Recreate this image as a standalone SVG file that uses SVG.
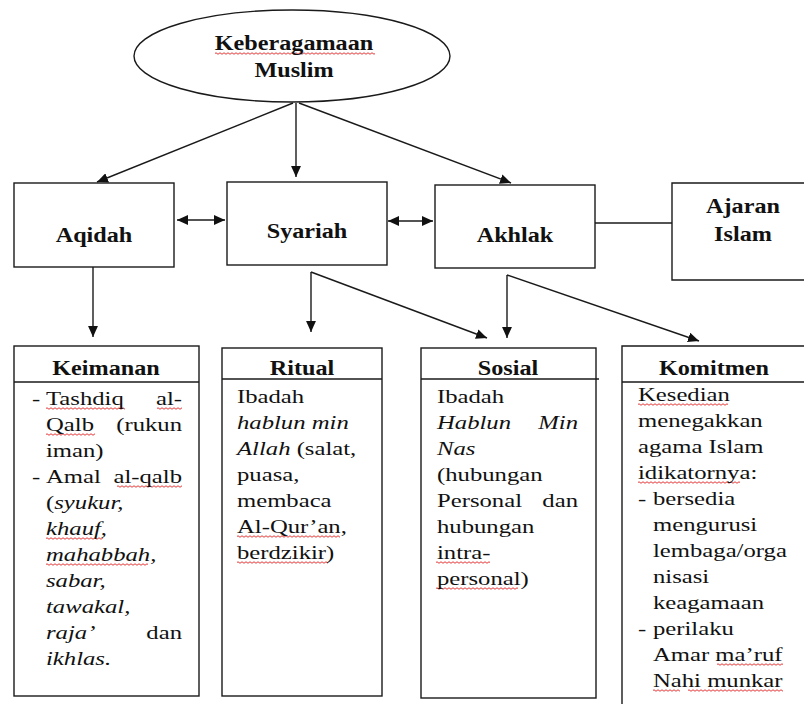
<svg xmlns="http://www.w3.org/2000/svg" width="804" height="704" viewBox="0 0 804 704">
  <defs>
    <style>
      .box{fill:#fff;stroke:#1a1a1a;stroke-width:1.4}
      .ln{fill:none;stroke:#1a1a1a;stroke-width:1.4}
      .t{font-family:"Liberation Serif","Times New Roman",serif;font-weight:bold;font-size:20.5px;fill:#111;text-anchor:middle}
      .b{font-family:"Liberation Serif","Times New Roman",serif;font-size:19px;fill:#111}
      .e{text-anchor:end}
      .i{font-style:italic}
      .sq{fill:url(#squig)}
    </style>
    <marker id="ah" viewBox="0 0 10 9" refX="10" refY="4.5" markerWidth="11" markerHeight="10" markerUnits="userSpaceOnUse" orient="auto-start-reverse">
      <path d="M0 0L10 4.5L0 9z" fill="#111"/>
    </marker>
    <!-- wavy red spell-check underline -->
    <pattern id="squig" patternUnits="userSpaceOnUse" width="4" height="3">
      <path d="M0 1.5Q1 0 2 1.5T4 1.5" fill="none" stroke="#e02020" stroke-width="0.9"/>
    </pattern>
  </defs>

  <!-- connectors -->
  <g id="connectors" class="ln">
    <path d="M293 103L97 182" marker-end="url(#ah)"/>
    <path d="M296 103V177" marker-end="url(#ah)"/>
    <path d="M299 103L511 183" marker-end="url(#ah)"/>
    <path d="M177 220H225" marker-start="url(#ah)" marker-end="url(#ah)"/>
    <path d="M388 221H433" marker-start="url(#ah)" marker-end="url(#ah)"/>
    <path d="M595 223H672"/>
    <path d="M93 267V337" marker-end="url(#ah)"/>
    <path d="M311 272V332" marker-end="url(#ah)"/>
    <path d="M311 272L487 338" marker-end="url(#ah)"/>
    <path d="M507 275V338" marker-end="url(#ah)"/>
    <path d="M507 275L699 341" marker-end="url(#ah)"/>
  </g>

  <!-- root ellipse -->
  <g id="keberagamaan">
    <ellipse class="box" cx="292" cy="56" rx="158" ry="46"/>
    <rect class="sq" transform="translate(215 52)" width="160" height="3"/>
    <text class="t" transform="translate(294 50) scale(1.18 1)">Keberagamaan</text>
    <text class="t" transform="translate(294 77) scale(1.18 1)">Muslim</text>
  </g>

  <!-- second level -->
  <g id="aqidah">
    <rect class="box" x="14" y="183" width="160" height="84"/>
    <text class="t" transform="translate(94 242) scale(1.18 1)">Aqidah</text>
  </g>
  <g id="syariah">
    <rect class="box" x="227" y="182" width="160" height="83"/>
    <text class="t" transform="translate(307 238) scale(1.18 1)">Syariah</text>
  </g>
  <g id="akhlak">
    <rect class="box" x="435" y="185" width="160" height="83"/>
    <text class="t" transform="translate(515 242) scale(1.18 1)">Akhlak</text>
  </g>
  <g id="ajaran-islam">
    <path class="box" d="M810 183H672V280H810"/>
    <text class="t" transform="translate(743 213) scale(1.18 1)">Ajaran</text>
    <text class="t" transform="translate(743 241) scale(1.18 1)">Islam</text>
  </g>

  <!-- Keimanan -->
  <g id="keimanan">
    <rect class="box" x="14" y="346" width="185" height="350"/>
    <path class="ln" d="M14 382H199"/>
    <text class="t" transform="translate(106 375) scale(1.18 1)">Keimanan</text>
    <rect class="sq" transform="translate(46 407)" width="79" height="3"/>
    <rect class="sq" transform="translate(157 407)" width="25" height="3"/>
    <rect class="sq" transform="translate(46 433)" width="49" height="3"/>
    <rect class="sq" transform="translate(117 485)" width="65" height="3"/>
    <rect class="sq" transform="translate(46 537)" width="57" height="3"/>
    <rect class="sq" transform="translate(46 563)" width="102" height="3"/>
    <text class="b" transform="translate(32 405) scale(1.3 1)">-</text>
    <text class="b" transform="translate(46 405) scale(1.3 1)">Tashdiq</text>
    <text class="b e" transform="translate(182 405) scale(1.3 1)">al-</text>
    <text class="b" transform="translate(46 431) scale(1.3 1)">Qalb</text>
    <text class="b e" transform="translate(182 431) scale(1.3 1)">(rukun</text>
    <text class="b" transform="translate(46 457) scale(1.3 1)">iman)</text>
    <text class="b" transform="translate(32 483) scale(1.3 1)">-</text>
    <text class="b" transform="translate(46 483) scale(1.3 1)">Amal</text>
    <text class="b e" transform="translate(182 483) scale(1.3 1)">al-qalb</text>
    <text class="b" transform="translate(46 509) scale(1.3 1)">(<tspan class="i">syukur,</tspan></text>
    <text class="b i" transform="translate(46 535) scale(1.3 1)">khauf,</text>
    <text class="b i" transform="translate(46 561) scale(1.3 1)">mahabbah,</text>
    <text class="b i" transform="translate(46 587) scale(1.3 1)">sabar,</text>
    <text class="b i" transform="translate(46 613) scale(1.3 1)">tawakal,</text>
    <text class="b i" transform="translate(46 639) scale(1.3 1)">raja’</text>
    <text class="b e" transform="translate(182 639) scale(1.3 1)">dan</text>
    <text class="b i" transform="translate(46 665) scale(1.3 1)">ikhlas.</text>
  </g>

  <!-- Ritual -->
  <g id="ritual">
    <rect class="box" x="222" y="348" width="160" height="348"/>
    <path class="ln" d="M222 379H382"/>
    <text class="t" transform="translate(302 375) scale(1.18 1)">Ritual</text>
    <rect class="sq" transform="translate(237 535)" width="103" height="3"/>
    <rect class="sq" transform="translate(237 561)" width="91" height="3"/>
    <text class="b" transform="translate(237 403) scale(1.3 1)">Ibadah</text>
    <text class="b i" transform="translate(237 429) scale(1.3 1)">hablun min</text>
    <text class="b" transform="translate(237 455) scale(1.3 1)"><tspan class="i">Allah</tspan> (salat,</text>
    <text class="b" transform="translate(237 481) scale(1.3 1)">puasa,</text>
    <text class="b" transform="translate(237 507) scale(1.3 1)">membaca</text>
    <text class="b" transform="translate(237 533) scale(1.3 1)">Al-Qur’an,</text>
    <text class="b" transform="translate(237 559) scale(1.3 1)">berdzikir)</text>
  </g>

  <!-- Sosial -->
  <g id="sosial">
    <rect class="box" x="421" y="348" width="175" height="350"/>
    <path class="ln" d="M421 379H599"/>
    <text class="t" transform="translate(508 375) scale(1.18 1)">Sosial</text>
    <rect class="sq" transform="translate(436 561)" width="54" height="3"/>
    <rect class="sq" transform="translate(436 587)" width="82" height="3"/>
    <text class="b" transform="translate(437 403) scale(1.3 1)">Ibadah</text>
    <text class="b i" transform="translate(437 429) scale(1.3 1)">Hablun</text>
    <text class="b i e" transform="translate(578 429) scale(1.3 1)">Min</text>
    <text class="b i" transform="translate(437 455) scale(1.3 1)">Nas</text>
    <text class="b" transform="translate(437 481) scale(1.3 1)">(hubungan</text>
    <text class="b" transform="translate(437 507) scale(1.3 1)">Personal</text>
    <text class="b e" transform="translate(578 507) scale(1.3 1)">dan</text>
    <text class="b" transform="translate(437 533) scale(1.3 1)">hubungan</text>
    <text class="b" transform="translate(437 559) scale(1.3 1)">intra-</text>
    <text class="b" transform="translate(437 585) scale(1.3 1)">personal)</text>
  </g>

  <!-- Komitmen -->
  <g id="komitmen">
    <path class="ln" d="M806 346H622V706M622 382H806"/>
    <text class="t" transform="translate(714 375) scale(1.18 1)">Komitmen</text>
    <rect class="sq" transform="translate(638 403)" width="90" height="3"/>
    <rect class="sq" transform="translate(638 481)" width="102" height="3"/>
    <rect class="sq" transform="translate(717 663)" width="66" height="3"/>
    <rect class="sq" transform="translate(653 689)" width="27" height="3"/>
    <rect class="sq" transform="translate(688 689)" width="95" height="3"/>
    <text class="b" transform="translate(638 401) scale(1.3 1)">Kesedian</text>
    <text class="b" transform="translate(638 427) scale(1.3 1)">menegakkan</text>
    <text class="b" transform="translate(638 453) scale(1.3 1)">agama Islam</text>
    <text class="b" transform="translate(638 479) scale(1.3 1)">idikatornya:</text>
    <text class="b" transform="translate(638 505) scale(1.3 1)">-</text>
    <text class="b" transform="translate(653 505) scale(1.3 1)">bersedia</text>
    <text class="b" transform="translate(653 531) scale(1.3 1)">mengurusi</text>
    <text class="b" transform="translate(653 557) scale(1.3 1)">lembaga/orga</text>
    <text class="b" transform="translate(653 583) scale(1.3 1)">nisasi</text>
    <text class="b" transform="translate(653 609) scale(1.3 1)">keagamaan</text>
    <text class="b" transform="translate(638 635) scale(1.3 1)">-</text>
    <text class="b" transform="translate(653 635) scale(1.3 1)">perilaku</text>
    <text class="b" transform="translate(653 661) scale(1.3 1)">Amar ma’ruf</text>
    <text class="b" transform="translate(653 687) scale(1.3 1)">Nahi munkar</text>
  </g>
</svg>
